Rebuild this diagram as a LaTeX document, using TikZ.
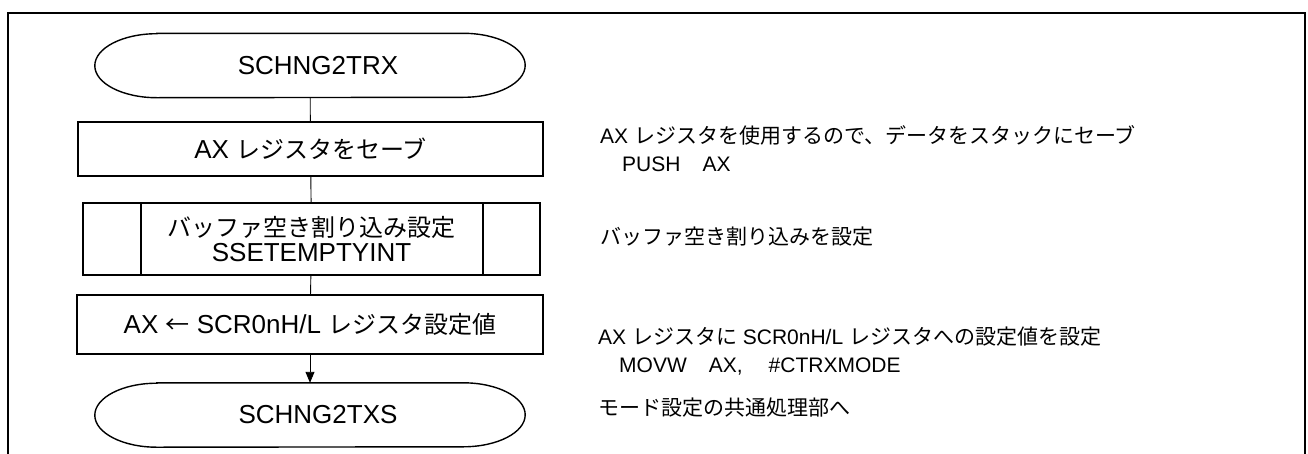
\documentclass[tikz,border=0pt]{standalone}
\usepackage{fontspec}
\setmainfont{Liberation Sans}
\newfontfamily\jp{Noto Sans CJK JP}
\newcommand{\bj}[1]{{\jp\fontsize{24}{22}\selectfont #1}}
\usetikzlibrary{arrows.meta}
\tikzset{
  frame/.style={line width=2.6pt},
  procbox/.style={draw, line width=1.8pt, inner sep=0pt, font=\fontsize{26}{24}\selectfont},
  termnode/.style={inner sep=0pt, minimum width=430pt, minimum height=64pt, font=\fontsize{26}{26}\selectfont},
  termline/.style={line width=1.4pt},
  conn/.style={line width=0.9pt},
  note/.style={anchor=west, align=left, inner sep=0pt, font=\fontsize{21}{28}\selectfont},
}
\newcommand{\termoutline}[1]{%
  \draw[termline] ([xshift=62pt]#1.north west) -- ([xshift=-62pt]#1.north east)
    arc[start angle=90, end angle=-90, x radius=62pt, y radius=32pt]
    -- ([xshift=62pt]#1.south west)
    arc[start angle=270, end angle=90, x radius=62pt, y radius=32pt] -- cycle;}
\begin{document}
\begin{tikzpicture}[x=1pt, y=1pt]
\useasboundingbox (0,0) rectangle (1308,-453);
% outer frame (open at bottom)
\draw[frame] (8,-460) -- (8,-13) -- (1305,-13) -- (1305,-460);

% flowchart
\node[termnode] (t1) at (310,-65.5) {\hspace{16pt}SCHNG2TRX};
\termoutline{t1}
\node[procbox, minimum width=465pt, minimum height=54pt] (b1) at (310.5,-149) {AX \bj{レジスタをセーブ}};
\node[procbox, minimum width=457pt, minimum height=72pt, align=center] (b2) at (311.5,-239) {\bj{バッファ空き割り込み設定}\\[1pt]SSETEMPTYINT};
\draw[line width=1.8pt] (141,-203) -- (141,-275);
\draw[line width=1.8pt] (483,-203) -- (483,-275);
\node[procbox, minimum width=466pt, minimum height=59pt] (b3) at (310,-324.5) {AX \bj{←} SCR0nH/L \bj{レジスタ設定値}};
\node[termnode] (t2) at (310,-415) {\hspace{16pt}SCHNG2TXS};
\termoutline{t2}

\draw[conn] (t1) -- (b1);
\draw[conn] (b1) -- (b2);
\draw[conn] (b2) -- (b3);
\draw[conn, -{Triangle[width=9pt, length=11pt]}] (b3) -- (t2);

% notes
\node[note] (n1) at (600,-149) {AX {\jp レジスタを使用するので、データをスタックにセーブ}\\\hspace{22pt}PUSH\hspace{22pt}AX};
\node[note] (n2) at (600,-237) {{\jp バッファ空き割り込みを設定}};
\node[note] (n3) at (598,-351.5) {AX {\jp レジスタに} SCR0nH/L {\jp レジスタへの設定値を設定}\\\hspace{21pt}MOVW\hspace{22pt}AX,\hspace{26pt}\#CTRXMODE};
\node[note] (n4) at (598,-408) {{\jp モード設定の共通処理部へ}};
\end{tikzpicture}
\end{document}
